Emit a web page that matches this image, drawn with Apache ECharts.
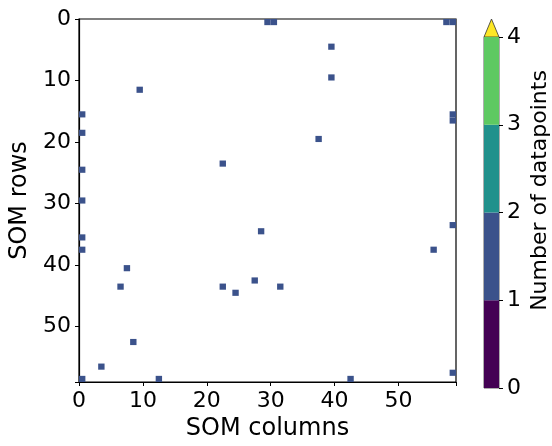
<!DOCTYPE html>
<html>
<head>
<meta charset="utf-8">
<script src="https://cdn.jsdelivr.net/npm/echarts@6/dist/echarts.min.js"></script>
<style>html,body{margin:0;padding:0;background:#fff}#c{width:552px;height:446px}</style>
</head>
<body>
<div id="c"></div>
<script>
// SOM grid size
const gridSize = 59;
// occupied cells (column, row) and their counts
const cellCols = [29,30,57,58,39,39,9,0,0,58,58,37,22,0,0,28,58,0,0,55,7,27,6,22,31,24,8,3,0,12,42,58];
const cellRows = [0,0,0,0,4,9,11,15,18,15,16,19,23,24,29,34,33,35,37,37,40,42,43,43,43,44,52,56,58,58,58,57];
const cellCounts = [1,1,1,1,1,1,1,1,1,1,1,1,1,1,1,1,1,1,1,1,1,1,1,1,1,1,1,1,1,1,1,1];
// colorbar
const cbBounds = [0,1,2,3,4];
const cbColors = ['#440154','#3b528b','#21918c','#5ec962'];
const cbOverColor = '#fde725';
const axisTicks = [0,10,20,30,40,50];

function colorFor(v){
  for (let i=0;i<cbColors.length;i++){ if (v>=cbBounds[i] && v<cbBounds[i+1]) return cbColors[i]; }
  return v>=cbBounds[cbBounds.length-1] ? cbOverColor : null;
}

const heatData = cellCols.map((c,i)=>[c,cellRows[i],cellCounts[i]]);
const font = 'DejaVu Sans';

const chart = echarts.init(document.getElementById('c'), null, {renderer:'canvas'});
const cbSeries = cbColors.map((col,i)=>({
  type:'bar', xAxisIndex:1, yAxisIndex:1, stack:'cb', barWidth:'100%',
  data:[cbBounds[i+1]-cbBounds[i]], itemStyle:{color:col}, silent:true, animation:false
}));

chart.setOption({
  animation:false,
  grid:[
    {left:79, right:96, top:19, bottom:61, show:true, borderColor:'#000', borderWidth:1.2, backgroundColor:'#fff'},
    {left:484, width:15, top:37, bottom:58, show:true, borderColor:'#333', borderWidth:0.8}
  ],
  xAxis:[
    {type:'value', gridIndex:0, min:0, max:gridSize, interval:10,
     name:'SOM columns', nameLocation:'middle', nameGap:35,
     nameTextStyle:{fontFamily:font, fontSize:24, color:'#000'},
     axisLine:{show:true, onZero:false, lineStyle:{color:'#000', width:1.2}},
     axisTick:{show:true, length:4, lineStyle:{color:'#000'}},
     axisLabel:{fontFamily:font, fontSize:22, color:'#000', margin:8,
       formatter:v=>axisTicks.indexOf(v)>=0?String(v):''},
     splitLine:{show:false}},
    {type:'category', gridIndex:1, data:['cb'], show:false}
  ],
  yAxis:[
    {type:'value', gridIndex:0, min:0, max:gridSize, interval:10, inverse:true,
     name:'SOM rows', nameLocation:'middle', nameGap:45,
     nameTextStyle:{fontFamily:font, fontSize:24, color:'#000'},
     axisLine:{show:true, onZero:false, lineStyle:{color:'#000', width:1.2}},
     axisTick:{show:true, length:4, lineStyle:{color:'#000'}},
     axisLabel:{fontFamily:font, fontSize:22, color:'#000', margin:8,
       formatter:v=>axisTicks.indexOf(v)>=0?String(v):''},
     splitLine:{show:false}},
    {type:'value', gridIndex:1, position:'right', min:cbBounds[0], max:cbBounds[cbBounds.length-1], interval:1,
     name:'Number of datapoints', nameLocation:'middle', nameGap:30, nameRotate:90,
     nameTextStyle:{fontFamily:font, fontSize:22, color:'#000', padding:[0,0,0,44]},
     axisLine:{show:false},
     axisTick:{show:true, length:4, lineStyle:{color:'#000'}},
     axisLabel:{fontFamily:font, fontSize:22, color:'#000', margin:8},
     splitLine:{show:false}}
  ],
  series:[
    {type:'custom', xAxisIndex:0, yAxisIndex:0, data:heatData, clip:true,
     renderItem:(params, api)=>{
       const c=api.value(0), r=api.value(1), v=api.value(2);
       const p0=api.coord([c,r]), p1=api.coord([c+1,r+1]);
       return {type:'rect', shape:{x:p0[0], y:p0[1], width:p1[0]-p0[0], height:p1[1]-p0[1]},
         style:{fill:colorFor(v)}};
     }},
    ...cbSeries,
    {type:'custom', xAxisIndex:1, yAxisIndex:1, data:[[0, cbBounds[cbBounds.length-1]]], clip:false, silent:true,
     renderItem:(params, api)=>{
       const base = api.coord([0, api.value(1)]);
       const w = api.size([1,0])[0];
       const x0 = base[0]-w/2, x1 = base[0]+w/2;
       const h = 18;
       return {type:'polygon', shape:{points:[[x0,base[1]],[x1,base[1]],[base[0],base[1]-h]]},
         style:{fill:cbOverColor, stroke:'#333', lineWidth:0.8}};
     }}
  ]
});
</script>
</body>
</html>
